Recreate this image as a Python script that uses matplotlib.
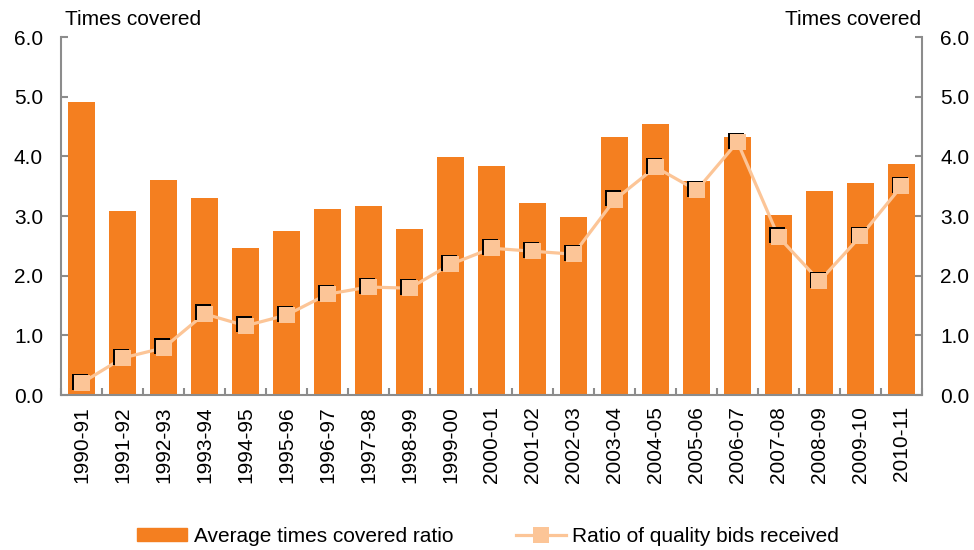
import numpy as np
import matplotlib.pyplot as plt
import matplotlib.transforms as mtransforms
from matplotlib.lines import Line2D
from matplotlib.patches import Patch

plt.rcParams['font.family'] = ['Liberation Sans', 'DejaVu Sans']

years = ['1990-91', '1991-92', '1992-93', '1993-94', '1994-95', '1995-96', '1996-97',
         '1997-98', '1998-99', '1999-00', '2000-01', '2001-02', '2002-03', '2003-04',
         '2004-05', '2005-06', '2006-07', '2007-08', '2008-09', '2009-10', '2010-11']
times_covered = [4.91, 3.08, 3.60, 3.30, 2.46, 2.75, 3.12, 3.17, 2.78, 3.99, 3.84,
                 3.22, 2.98, 4.32, 4.54, 3.58, 4.32, 3.02, 3.42, 3.55, 3.87]
quality_bids = [0.20, 0.62, 0.79, 1.36, 1.16, 1.34, 1.69, 1.81, 1.79, 2.19, 2.46,
                2.41, 2.36, 3.27, 3.82, 3.43, 4.24, 2.65, 1.91, 2.66, 3.50]
yticks = [0, 1, 2, 3, 4, 5, 6]

bar_color = '#F47F20'
line_color = '#FCC597'
grey = '#8C8C8C'
fs = 15

fig = plt.figure(figsize=(9.74, 5.5), dpi=100)
ax = fig.add_axes([0.0627, 0.2818, 0.8839, 0.6509])
x = np.arange(len(years))

ax.bar(x, times_covered, width=0.66, color=bar_color, zorder=2)

# thin black "shadow" on the top-left of each marker
shadow = mtransforms.offset_copy(ax.transData, fig=fig, x=-1.5, y=1.5, units='dots')
ax.plot(x, quality_bids, ls='none', marker='s', markersize=11, markerfacecolor='black',
        markeredgewidth=0, transform=shadow, zorder=3.05)
ax.plot(x, quality_bids, color=line_color, lw=2.3, zorder=3)
ax.plot(x, quality_bids, ls='none', marker='s', markersize=11, markerfacecolor=line_color,
        markeredgewidth=0, zorder=3.1)

ax.set_xlim(-0.5, len(years) - 0.5)
ax.set_ylim(0, 6)
ax.set_yticks(yticks)
ax.set_yticklabels([f'{v:.1f}' for v in yticks], fontsize=fs)
ax.set_xticks(x)
ax.set_xticklabels(years, rotation=90, fontsize=fs)
ax.tick_params(axis='x', length=0, pad=8)
ax.set_xticks(np.arange(-0.5, len(years), 1), minor=True)
ax.tick_params(axis='x', which='minor', length=5, color=grey, width=1.5, direction='in')
ax.tick_params(axis='y', length=5, color=grey, width=1.5, direction='in', pad=13)

for s in ['top', 'right']:
    ax.spines[s].set_visible(False)
for s in ['left', 'bottom']:
    ax.spines[s].set_color(grey)
    ax.spines[s].set_linewidth(1.5)

ax2 = ax.twinx()
ax2.set_ylim(0, 6)
ax2.set_yticks(yticks)
ax2.set_yticklabels([f'{v:.1f}' for v in yticks], fontsize=fs)
ax2.tick_params(axis='y', length=5, color=grey, width=1.5, direction='in', pad=13)
for s in ['top', 'left', 'bottom']:
    ax2.spines[s].set_visible(False)
ax2.spines['right'].set_color(grey)
ax2.spines['right'].set_linewidth(1.5)

fig.text(0.067, 0.964, 'Times covered', fontsize=fs, ha='left', va='center')
fig.text(0.946, 0.964, 'Times covered', fontsize=fs, ha='right', va='center')

handles = [Patch(color=bar_color),
           Line2D([], [], color=line_color, lw=2.3, marker='s', markersize=11,
                  markerfacecolor=line_color, markeredgewidth=0)]
labels = ['Average times covered ratio', 'Ratio of quality bids received']
fig.legend(handles, labels, loc='center', bbox_to_anchor=(0.501, 0.025), ncol=2, frameon=False,
           fontsize=fs, handlelength=2.4, handleheight=0.6, handletextpad=0.3, columnspacing=3.0)

fig.savefig('out.png', dpi=100)
